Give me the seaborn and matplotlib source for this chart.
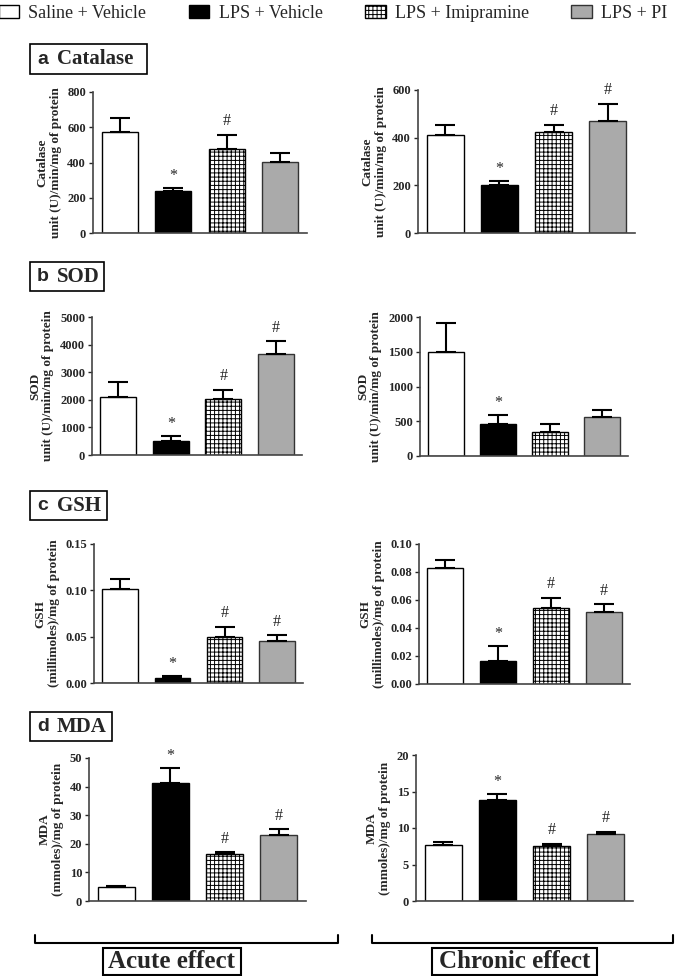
import numpy as np
import pandas as pd
import matplotlib
matplotlib.use('Agg')
import matplotlib.pyplot as plt
from matplotlib.patches import Patch, Rectangle
from matplotlib.lines import Line2D
import seaborn as sns

sns.set_theme(style='ticks')
plt.rcParams['font.family'] = ['Liberation Serif', 'DejaVu Serif']
plt.rcParams['hatch.linewidth'] = 0.7

### Data
groups = ['Saline + Vehicle', 'LPS + Vehicle', 'LPS + Imipramine', 'LPS + PI']
colors = ['white', 'black', 'white', '#aaaaaa']

catalase_acute_mean = [573, 238, 474, 403]
catalase_acute_sem = [77, 17, 84, 51]
catalase_chronic_mean = [410, 201, 423, 471]
catalase_chronic_sem = [42, 18, 30, 72]

sod_acute_mean = [2108, 506, 2012, 3663]
sod_acute_sem = [543, 169, 349, 457]
sod_chronic_mean = [1494, 467, 347, 554]
sod_chronic_sem = [414, 126, 111, 111]

gsh_acute_mean = [0.1014, 0.0058, 0.0493, 0.0457]
gsh_acute_sem = [0.0112, 0.0021, 0.0111, 0.0057]
gsh_chronic_mean = [0.0829, 0.0162, 0.0545, 0.0514]
gsh_chronic_sem = [0.0057, 0.0109, 0.0072, 0.0055]

mda_acute_mean = [5.0, 41.1, 16.3, 23.0]
mda_acute_sem = [0.36, 5.3, 0.8, 2.1]
mda_chronic_mean = [7.73, 13.9, 7.6, 9.2]
mda_chronic_sem = [0.37, 0.8, 0.23, 0.27]

marks_cat_acute = ['', '*', '#', '']
marks_cat_chronic = ['', '*', '#', '#']
marks_sod_acute = ['', '*', '#', '#']
marks_sod_chronic = ['', '*', '', '']
marks_other = ['', '*', '#', '#']

W, H = 685, 976
fig = plt.figure(figsize=(W / 100, H / 100), dpi=100)


def px_axes(x0, y0, x1, y1):
    """axes from pixel box (top-left origin)"""
    return fig.add_axes([x0 / W, 1 - y1 / H, (x1 - x0) / W, (y1 - y0) / H])


def draw_panel(ax, means, sems, marks, ylabel, yticks, fmt):
    df = pd.DataFrame({'group': groups, 'value': means})
    sns.barplot(data=df, x='group', y='value', hue='group', palette=colors,
                hue_order=groups, order=groups, edgecolor='black', linewidth=1.0,
                errorbar=None, legend=False, width=0.68, ax=ax)
    for i, p in enumerate(ax.patches):
        if i == 2:
            p.set_hatch('++++')
        if i == 3:
            p.set_edgecolor('#333333')
    x = np.arange(len(groups))
    ax.errorbar(x, means, yerr=[np.zeros(len(sems)), sems], fmt='none',
                ecolor='black', elinewidth=1.5, capsize=7, capthick=1.5, zorder=1)
    for xi, m, s, t in zip(x, means, sems, marks):
        if t:
            ax.annotate(t, (xi, m + s), xytext=(0, 3 if t == '*' else 4),
                        textcoords='offset points', ha='center', va='bottom',
                        fontsize=11.5)
    ax.set_xlim(-0.5, 3.5)
    ax.set_ylim(yticks[0], yticks[-1])
    ax.set_yticks(yticks)
    ax.set_yticklabels([fmt.format(v) for v in yticks], fontweight='bold', fontsize=9)
    ax.set_xticks([])
    ax.set_xlabel('')
    ax.set_ylabel(ylabel, fontweight='bold', fontsize=9.5, labelpad=4, linespacing=1.1)
    ax.tick_params(axis='y', direction='out', length=3, width=1, pad=2)
    for side in ['top', 'right']:
        ax.spines[side].set_visible(False)
    for side in ['left', 'bottom']:
        ax.spines[side].set_color('#444444')
        ax.spines[side].set_linewidth(1.2)


panels = [
    ((93, 92, 307, 233), catalase_acute_mean, catalase_acute_sem, marks_cat_acute,
     'Catalase\nunit (U)/min/mg of protein', [0, 200, 400, 600, 800], '{:.0f}'),
    ((418, 90, 635, 233), catalase_chronic_mean, catalase_chronic_sem, marks_cat_chronic,
     'Catalase\nunit (U)/min/mg of protein', [0, 200, 400, 600], '{:.0f}'),
    ((92, 317, 302, 455), sod_acute_mean, sod_acute_sem, marks_sod_acute,
     'SOD\nunit (U)/min/mg of protein', [0, 1000, 2000, 3000, 4000, 5000], '{:.0f}'),
    ((420, 317, 628, 456), sod_chronic_mean, sod_chronic_sem, marks_sod_chronic,
     'SOD\nunit (U)/min/mg of protein', [0, 500, 1000, 1500, 2000], '{:.0f}'),
    ((94, 544, 303, 683), gsh_acute_mean, gsh_acute_sem, marks_other,
     'GSH\n(millimoles)/mg of protein', [0, 0.05, 0.10, 0.15], '{:.2f}'),
    ((419, 544, 630, 684), gsh_chronic_mean, gsh_chronic_sem, marks_other,
     'GSH\n(millimoles)/mg of protein', [0, 0.02, 0.04, 0.06, 0.08, 0.10], '{:.2f}'),
    ((89, 758, 306, 901), mda_acute_mean, mda_acute_sem, marks_other,
     'MDA\n(mmoles)/mg of protein', [0, 10, 20, 30, 40, 50], '{:.0f}'),
    ((416, 755, 633, 901), mda_chronic_mean, mda_chronic_sem, marks_other,
     'MDA\n(mmoles)/mg of protein', [0, 5, 10, 15, 20], '{:.0f}'),
]

for box, m, s, mk, yl, yt, fmt in panels:
    ax = px_axes(*box)
    draw_panel(ax, m, s, mk, yl, yt, fmt)

# panel title boxes
titles = [('a', 'Catalase', 30, 44, 147, 74),
          ('b', 'SOD', 30, 262, 104, 291),
          ('c', 'GSH', 30, 491, 107, 520),
          ('d', 'MDA', 30, 712, 112, 741)]
for letter, name, x0, y0, x1, y1 in titles:
    fig.patches.append(Rectangle((x0 / W, 1 - y1 / H), (x1 - x0) / W, (y1 - y0) / H,
                                 transform=fig.transFigure, facecolor='white',
                                 edgecolor='black', linewidth=1.2))
    yc = 1 - (y0 + y1) / 2 / H
    fig.text((x0 + 7) / W, yc, letter, family=['Liberation Sans'], fontweight='bold',
             fontsize=14, va='center', ha='left')
    fig.text((x0 + 27) / W, yc, name, fontweight='bold', fontsize=15,
             va='center', ha='left')

# legend
handles = [Patch(facecolor=c, edgecolor='black', linewidth=1.0) for c in colors]
handles[2].set_hatch('++++')
handles[3].set_edgecolor('#333333')
fig.legend(handles, groups, loc='upper left', bbox_to_anchor=(-0.018, 1.006),
           ncol=4, frameon=False, fontsize=13, handlelength=1.15, handleheight=0.75,
           handletextpad=0.5, columnspacing=2.35, borderaxespad=0.2)

# bottom brackets
for x0, x1, label, bx0, bx1 in [(35, 338, 'Acute effect', 103, 241),
                                 (372, 673, 'Chronic effect', 432, 597)]:
    yb = 1 - 943 / H
    yt = 1 - 935 / H
    fig.add_artist(Line2D([x0 / W, x0 / W, x1 / W, x1 / W], [yt, yb, yb, yt],
                          transform=fig.transFigure, color='black', linewidth=1.5))
    fig.patches.append(Rectangle((bx0 / W, 1 - 975 / H), (bx1 - bx0) / W, 27 / H,
                                 transform=fig.transFigure, facecolor='white',
                                 edgecolor='black', linewidth=1.5))
    fig.text((bx0 + bx1) / 2 / W, 1 - 961.5 / H, label, fontweight='bold',
             fontsize=18, ha='center', va='center')

fig.savefig('out.png', dpi=100)
